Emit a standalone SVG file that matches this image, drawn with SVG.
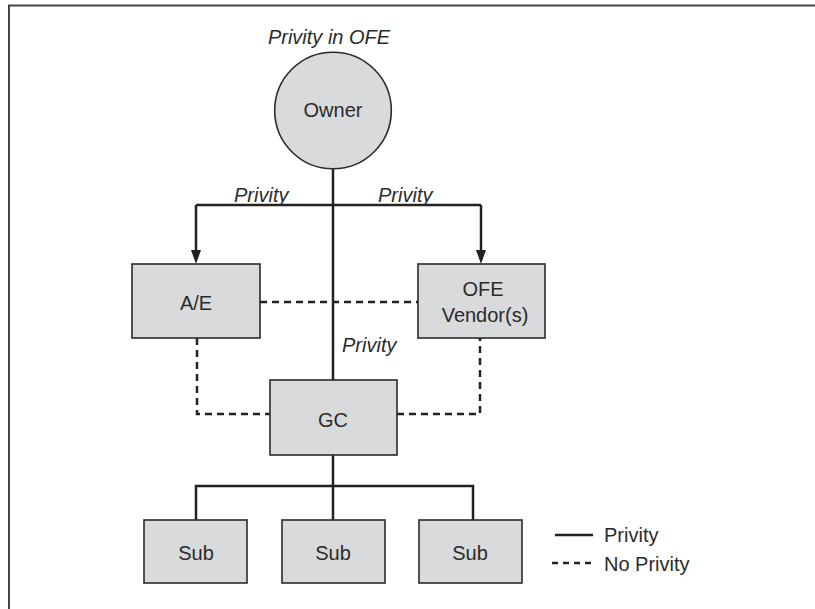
<svg xmlns="http://www.w3.org/2000/svg" width="815" height="609" viewBox="0 0 815 609">
<style>
.node{fill:#d9dadc;stroke:#2b2b2b;stroke-width:1.6}
.lbl{font-family:"Liberation Sans",Arial,sans-serif;font-size:20px;fill:#2b2b2b;text-anchor:middle}
.it{font-family:"Liberation Sans",Arial,sans-serif;font-size:20px;fill:#2b2b2b;font-style:italic}
.solid{fill:none;stroke:#222;stroke-width:2.5}
.dash{fill:none;stroke:#222;stroke-width:2.5;stroke-dasharray:7,5}
.frame{fill:none;stroke:#444;stroke-width:2}
</style>
<defs>
<marker id="arr" viewBox="0 0 10 14" refX="5" refY="14" markerWidth="10" markerHeight="14" markerUnits="userSpaceOnUse" orient="auto-start-reverse">
<path d="M0,0 L10,0 L5,14 Z" fill="#222"/>
</marker>
</defs>
<path class="frame" d="M9,609 L9,5.5 L815,5.5"/>
<g id="connectors">
<path class="solid" d="M333,169 L333,380"/>
<path class="solid" d="M196,205 L481,205"/>
<path class="solid" d="M196,205 L196,250" />
<path d="M191,250 L201,250 L196,264 Z" fill="#222"/>
<path class="solid" d="M481,205 L481,250"/>
<path d="M476,250 L486,250 L481,264 Z" fill="#222"/>
<path class="dash" d="M260,302 L418,302"/>
<path class="dash" d="M197,338 L197,414 L270,414"/>
<path class="dash" d="M397,414 L480,414 L480,338"/>
<path class="solid" d="M333,455 L333,486"/>
<path class="solid" d="M196,520 L196,486 L473,486 L473,520"/>
<path class="solid" d="M333,486 L333,520"/>
</g>
<g id="owner">
<circle class="node" cx="333" cy="110.5" r="58.3"/>
<text class="lbl" x="333" y="117">Owner</text>
</g>
<text class="it" x="329" y="44" text-anchor="middle">Privity in OFE</text>
<text class="it" x="234" y="202">Privity</text>
<text class="it" x="378" y="202">Privity</text>
<text class="it" x="342" y="352">Privity</text>
<g id="ae">
<rect class="node" x="132" y="264" width="128" height="74"/>
<text class="lbl" x="196" y="310">A/E</text>
</g>
<g id="ofe">
<rect class="node" x="418" y="264" width="127" height="74"/>
<text class="lbl" x="483" y="296">OFE</text>
<text class="lbl" x="485" y="322">Vendor(s)</text>
</g>
<g id="gc">
<rect class="node" x="270" y="380" width="127" height="75"/>
<text class="lbl" x="333" y="427">GC</text>
</g>
<g id="sub1">
<rect class="node" x="144" y="520" width="103" height="63"/>
<text class="lbl" x="196" y="560">Sub</text>
</g>
<g id="sub2">
<rect class="node" x="282" y="520" width="103" height="63"/>
<text class="lbl" x="333" y="560">Sub</text>
</g>
<g id="sub3">
<rect class="node" x="419" y="520" width="103" height="63"/>
<text class="lbl" x="470" y="560">Sub</text>
</g>
<g id="legend">
<path class="solid" d="M555,535 L593,535"/>
<text class="lbl" x="604" y="542" text-anchor="start" style="text-anchor:start">Privity</text>
<path class="dash" d="M552,563 L593,563" style="stroke-dasharray:6,5"/>
<text class="lbl" x="604" y="571" style="text-anchor:start">No Privity</text>
</g>
</svg>
